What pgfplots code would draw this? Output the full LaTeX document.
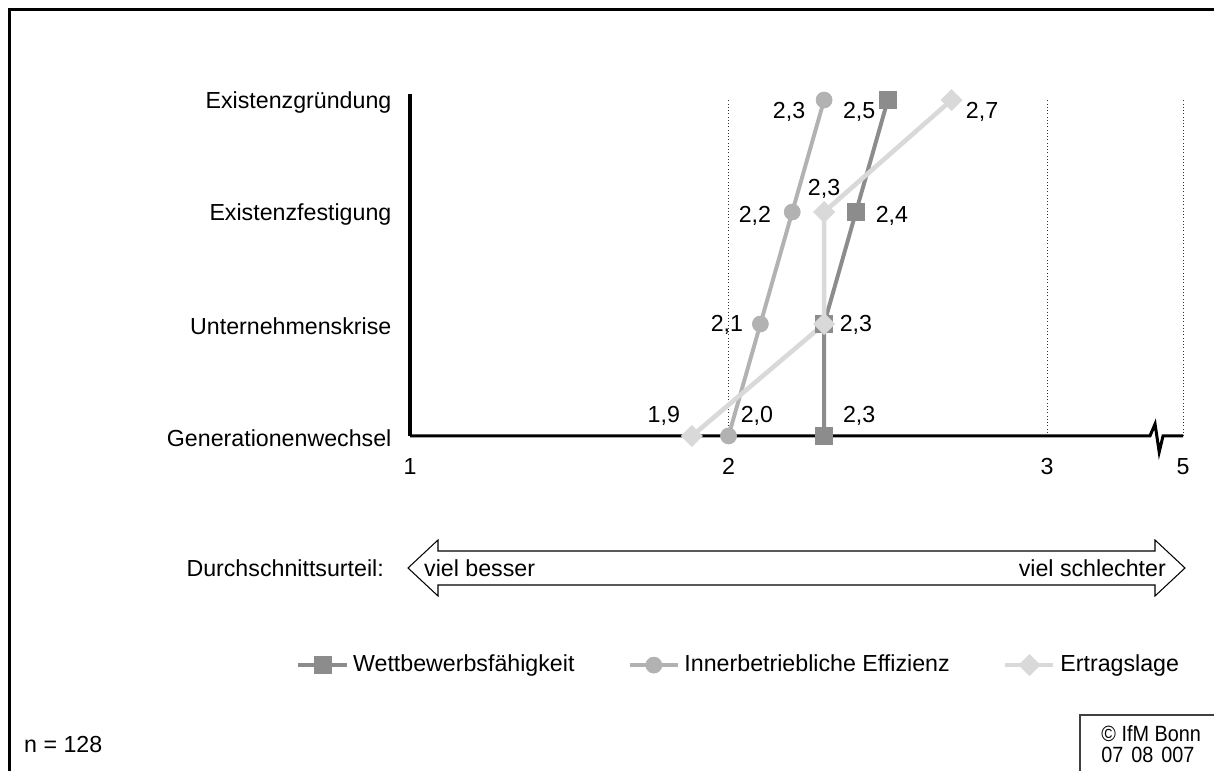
\documentclass[border=0pt]{standalone}
\usepackage{fontspec}
\setmainfont{Liberation Sans}
\usepackage{pgfplots}
\pgfplotsset{compat=1.18}
\definecolor{wett}{RGB}{140,140,140}
\definecolor{eff}{RGB}{178,178,178}
\definecolor{ertrag}{RGB}{217,217,217}

\begin{document}
\begin{tikzpicture}[x=0.431pt,y=0.431pt]
\path[use as bounding box] (0,0) rectangle (1214,771);
% frame
\draw[line width=1.3pt] (9.5,-5) -- (9.5,761.5) -- (1220,761.5);

\begin{axis}[
    at={(176.71pt,144.39pt)}, anchor=south west,
    scale only axis, width=333.2pt, height=144.8pt,
    xmin=1, xmax=3.427, ymin=0, ymax=3,
    clip=false,
    axis line style={draw=none},
    xtick={1,2,3,3.427}, xticklabels={1,2,3,5},
    ytick={0,1,2,3},
    yticklabels={Generationenwechsel,Unternehmenskrise,Existenzfestigung,Existenzgründung},
    major tick length=0pt,
    xticklabel style={yshift=-6pt},
    yticklabel style={xshift=-4.5pt, yshift=-1pt},
    xmajorgrids,
    grid style={densely dotted, black!80, line width=0.4pt},
    legend style={at={(axis description cs:0.427,-0.682)}, anchor=center,
        draw=none, legend columns=3,
        /tikz/every even column/.append style={column sep=21pt}},
    legend cell align=left,
    legend image code/.code={
        \draw[mark repeat=2,mark phase=2,#1] plot coordinates {(0pt,0pt) (10.35pt,0pt) (20.7pt,0pt)};},
]
% axis lines, x axis with break
\draw[line width=1.3pt] (axis cs:1,0) -- (axis cs:1,3.05);
\draw[line width=1.3pt] (axis cs:1,0) -- (axis cs:3.323,0) -- (axis cs:3.339,0.107)
    -- (axis cs:3.352,-0.143) -- (axis cs:3.364,0) -- (axis cs:3.427,0);

\addplot[wett, line width=1.7pt, mark=square*, mark size=3.7pt,
    mark options={line width=0.3pt}]
    coordinates {(2.5,3) (2.4,2) (2.3,1) (2.3,0)};
\addplot[eff, line width=1.7pt, mark=*, mark size=3.45pt,
    mark options={line width=0.3pt}]
    coordinates {(2.3,3) (2.2,2) (2.1,1) (2.0,0)};
\addplot[ertrag, line width=2pt, mark=square*, mark size=3.2pt,
    mark options={rotate=45, line width=0.3pt}]
    coordinates {(2.7,3) (2.3,2) (2.3,1) (1.885,0)};
\legend{Wettbewerbsfähigkeit, Innerbetriebliche Effizienz, Ertragslage}

% value labels
\node at (axis cs:2.190,2.893) {2,3};
\node at (axis cs:2.410,2.893) {2,5};
\node at (axis cs:2.796,2.893) {2,7};
\node at (axis cs:2.300,2.205) {2,3};
\node at (axis cs:2.083,1.964) {2,2};
\node at (axis cs:2.513,1.964) {2,4};
\node at (axis cs:1.995,0.991) {2,1};
\node at (axis cs:2.400,0.991) {2,3};
\node at (axis cs:1.797,0.179) {1,9};
\node at (axis cs:2.089,0.179) {2,0};
\node at (axis cs:2.410,0.179) {2,3};
\end{axis}

% scale arrow
\draw[line width=0.45pt, fill=white] (408,203) -- (438,231) -- (438,220) -- (1155,220)
    -- (1155,231) -- (1185,203) -- (1155,175) -- (1155,186) -- (438,186)
    -- (438,175) -- cycle;
\node[anchor=east] at (392,203) {Durchschnittsurteil:};
\node[anchor=west] at (416,203) {viel besser};
\node[anchor=east] at (1174,203) {viel schlechter};

% footer
\node[anchor=west] at (16,26) {n = 128};
\draw[black!75, line width=0.5pt] (1080,-5) -- (1080,56) -- (1220,56);
\node[anchor=west, xscale=0.9, font=\fontsize{9.5}{11}\selectfont] at (1094,37) {© IfM Bonn};
\node[anchor=west, xscale=0.9, font=\fontsize{9.5}{11}\selectfont] at (1094,16) {07\hspace{0.4em}08\hspace{0.4em}007};
\end{tikzpicture}
\end{document}
